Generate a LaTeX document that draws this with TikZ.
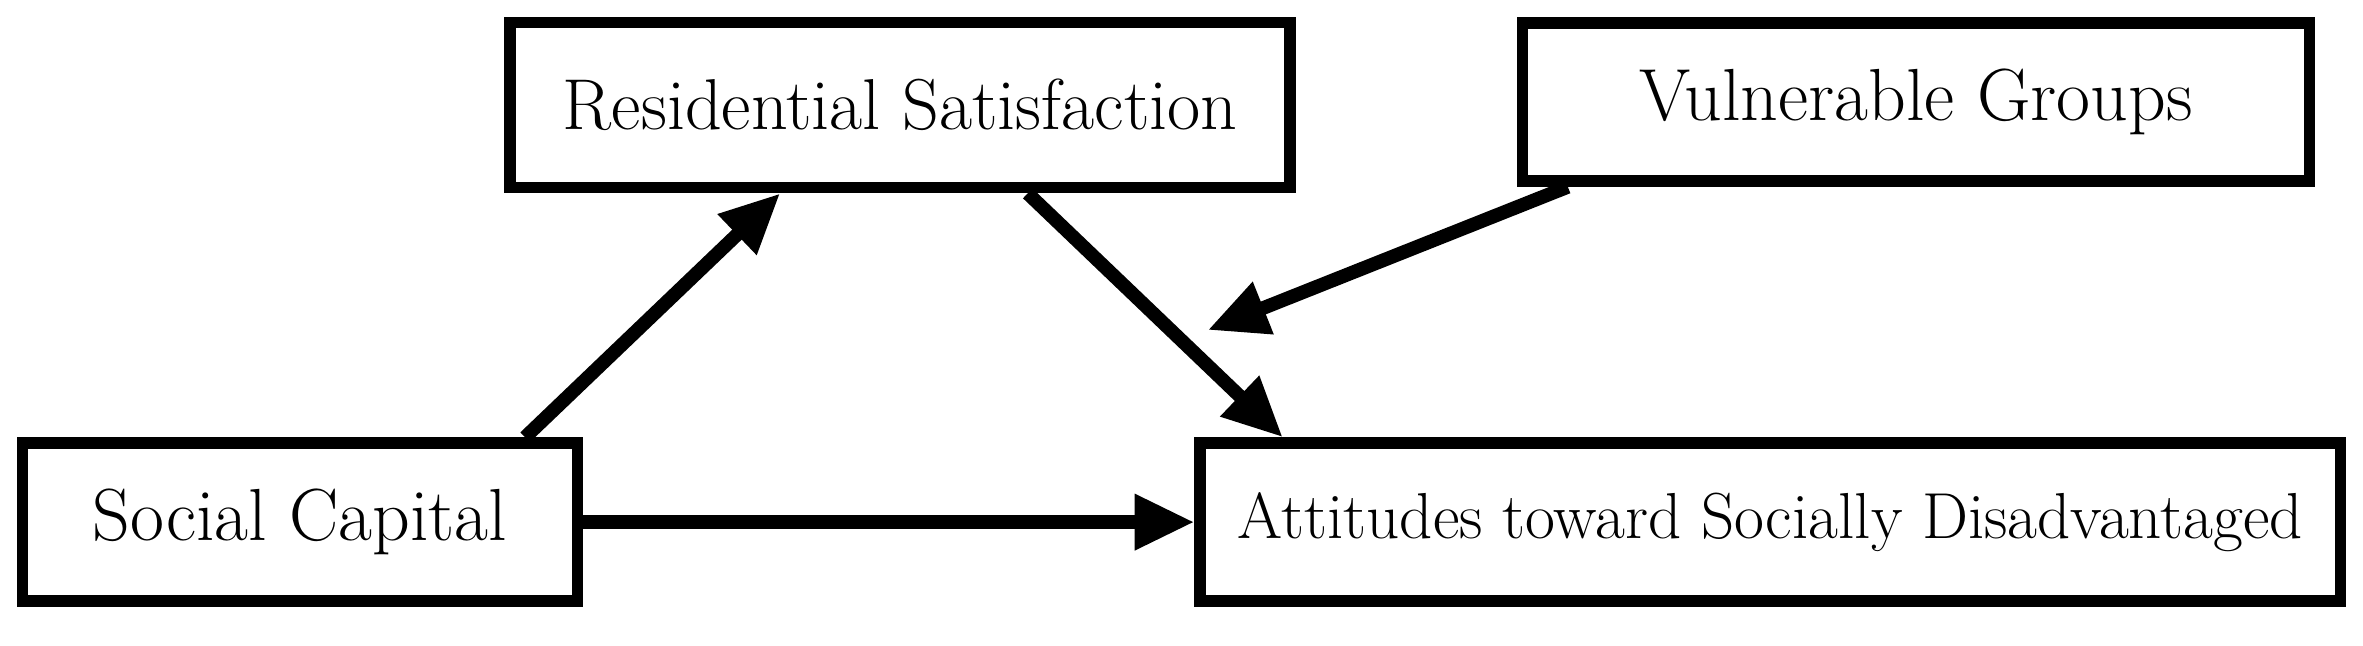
\documentclass[tikz,border=0pt]{standalone}
\usetikzlibrary{arrows.meta}
\begin{document}
\begin{tikzpicture}[x=0.015cm,y=-0.015cm,
  box/.style={draw,line width=3.3pt,inner sep=0pt},
  arr/.style={line width=3.9pt,-{Triangle[length=17pt,width=15pt]}}]
\useasboundingbox (0,0) rectangle (1575,430);
\node[box,minimum width=7.8cm,minimum height=1.65cm,font=\fontsize{20.5}{23}\selectfont] (rs) at (600,70) {Residential Satisfaction};
\node[box,minimum width=7.87cm,minimum height=1.58cm,font=\fontsize{21}{23}\selectfont] (vg) at (1277,68) {Vulnerable Groups};
\node[box,minimum width=5.55cm,minimum height=1.58cm,font=\fontsize{21}{23}\selectfont] (sc) at (200,348) {Social Capital};
\node[box,minimum width=11.4cm,minimum height=1.58cm,font=\fontsize{18.5}{21}\selectfont] (at) at (1180,348) {Attitudes toward Socially Disadvantaged};
\coordinate (m) at (805,220);
\draw[arr] (sc.north -| 350,0) -- (rs.south -| 520,0);
\draw[arr] (rs.south -| 685,0) -- (at.north -| 855,0);
\draw[arr] (vg.south -| 1045,0) -- (m);
\draw[arr] (sc.east) -- (at.west);
\end{tikzpicture}
\end{document}
